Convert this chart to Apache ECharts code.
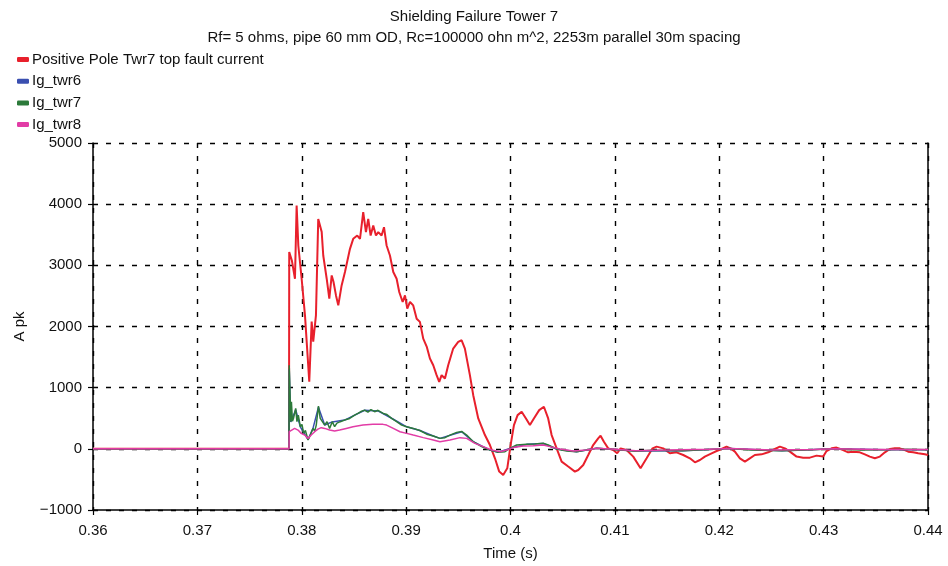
<!DOCTYPE html>
<html><head><meta charset="utf-8">
<script src="https://cdn.jsdelivr.net/npm/echarts@6/dist/echarts.min.js"></script>
<style>html,body{margin:0;padding:0;background:#fff}#c{width:948px;height:566px}</style>
</head><body><div id="c"></div>
<script>
const titleText = 'Shielding Failure Tower 7';
const subtitleText = 'Rf= 5 ohms, pipe 60 mm OD, Rc=100000 ohn m^2, 2253m parallel 30m spacing';
const seriesNames = ['Positive Pole Twr7 top fault current', 'Ig_twr6', 'Ig_twr7', 'Ig_twr8'];
const xTickLabels = ['0.36','0.37','0.38','0.39','0.4','0.41','0.42','0.43','0.44'];
const yTickLabels = ['\u22121000','0','1000','2000','3000','4000','5000'];

// [time (s), current (A)]
const redFault = [[0.36,0],[0.37878,0],[0.3788,3216],[0.37906,3074],[0.37935,2781],[0.37951,3976],[0.37967,3324],[0.37999,2781],[0.38031,2182],[0.38072,1096],[0.38095,2080],[0.3811,1753],[0.38136,2182],[0.38158,3759],[0.38191,3547],[0.38206,3161],[0.38239,2781],[0.38264,2455],[0.38287,2835],[0.38304,2732],[0.38328,2508],[0.3835,2345],[0.38382,2672],[0.38414,2890],[0.38462,3270],[0.38493,3433],[0.38532,3487],[0.38558,3433],[0.38589,3869],[0.38615,3543],[0.38637,3759],[0.3866,3487],[0.38685,3650],[0.38711,3487],[0.38733,3543],[0.38765,3487],[0.38788,3624],[0.38813,3324],[0.38845,3161],[0.38877,2890],[0.38909,2781],[0.38934,2564],[0.38967,2401],[0.38989,2508],[0.39011,2292],[0.39037,2401],[0.39068,2345],[0.39101,2128],[0.39132,2075],[0.39164,1802],[0.39197,1672],[0.39228,1476],[0.3926,1367],[0.39292,1204],[0.39317,1096],[0.3934,1204],[0.39372,1150],[0.39403,1367],[0.39451,1639],[0.39499,1748],[0.39532,1775],[0.39563,1639],[0.39611,1204],[0.39643,877],[0.39691,497],[0.39755,225],[0.39803,62],[0.39851,-155],[0.39892,-372],[0.3993,-427],[0.39969,-318],[0.40001,62],[0.40033,388],[0.40068,551],[0.40107,607],[0.40148,497],[0.40186,388],[0.40224,497],[0.40275,633],[0.4032,688],[0.40361,497],[0.40394,225],[0.40442,8],[0.4049,-209],[0.40553,-290],[0.40617,-372],[0.40649,-346],[0.40697,-264],[0.40745,-101],[0.40792,62],[0.4084,171],[0.40863,215],[0.40895,117],[0.40936,8],[0.40984,-20],[0.41022,-73],[0.41055,8],[0.41112,-20],[0.41176,-127],[0.41246,-318],[0.41304,-155],[0.41361,8],[0.414,36],[0.41463,8],[0.41527,-73],[0.41591,-57],[0.41655,-101],[0.41719,-155],[0.41767,-220],[0.41815,-183],[0.41862,-127],[0.41927,-73],[0.41975,-36],[0.42022,-3],[0.4207,36],[0.42109,8],[0.4215,-46],[0.42198,-155],[0.42246,-209],[0.42293,-155],[0.42341,-101],[0.42406,-90],[0.42469,-57],[0.42533,-3],[0.42581,36],[0.42629,8],[0.42677,-46],[0.42741,-127],[0.42804,-144],[0.42868,-144],[0.42932,-111],[0.42996,-127],[0.43028,-36],[0.43076,8],[0.43124,20],[0.43187,-20],[0.43235,-57],[0.43283,-46],[0.43347,-57],[0.43395,-90],[0.43443,-127],[0.43491,-155],[0.43539,-127],[0.43587,-57],[0.43635,-3],[0.43682,8],[0.4373,8],[0.43778,-20],[0.4381,-46],[0.43858,-57],[0.43906,-73],[0.4397,-90],[0.44,-100]];

const igTwr6 = [[0.36,0],[0.37878,0],[0.3788,1300],[0.37895,440],[0.37942,640],[0.37986,360],[0.3806,150],[0.38107,330],[0.3816,680],[0.3822,390],[0.38292,440],[0.38411,470],[0.38507,550],[0.38603,630],[0.3873,620],[0.38861,500],[0.39005,360],[0.39132,300],[0.3926,210],[0.39324,171],[0.39532,280],[0.39643,117],[0.39803,-20],[0.39882,-57],[0.39994,8],[0.40155,73],[0.40313,88],[0.40442,-3],[0.40633,-46],[0.40825,8],[0.412,-35],[0.4165,-30],[0.421,5],[0.426,-30],[0.431,0],[0.436,-15],[0.44,-15]];

const igTwr7 = [[0.36,0],[0.37878,0],[0.3788,1367],[0.37895,444],[0.37901,770],[0.37911,450],[0.37921,500],[0.37942,661],[0.37954,444],[0.37967,551],[0.37986,362],[0.38002,400],[0.38018,253],[0.38035,300],[0.3806,144],[0.38082,225],[0.38107,334],[0.38124,290],[0.38139,388],[0.3816,700],[0.38177,497],[0.38194,520],[0.3822,388],[0.38242,444],[0.38267,334],[0.38292,444],[0.38315,362],[0.38337,420],[0.38369,444],[0.38411,470],[0.38459,497],[0.38507,551],[0.38538,580],[0.38567,610],[0.38603,633],[0.38634,600],[0.38663,640],[0.38698,607],[0.3873,630],[0.38781,579],[0.38816,560],[0.38861,497],[0.38909,444],[0.38957,388],[0.39005,362],[0.39068,334],[0.39132,300],[0.39197,240],[0.3926,210],[0.39324,171],[0.39372,183],[0.3942,225],[0.39484,269],[0.39532,285],[0.3958,225],[0.39643,117],[0.39723,36],[0.39803,-20],[0.39882,-57],[0.39947,-46],[0.39994,8],[0.40059,62],[0.40155,73],[0.40234,80],[0.40313,90],[0.40361,62],[0.40442,-3],[0.40538,-36],[0.40633,-46],[0.40729,-20],[0.40825,8],[0.41,-10],[0.412,-40],[0.4135,-25],[0.4165,-30],[0.419,-10],[0.421,5],[0.423,-20],[0.426,-30],[0.429,-15],[0.431,0],[0.4335,-20],[0.436,-15],[0.438,-5],[0.44,-15]];

const igTwr8 = [[0.36,0],[0.37878,0],[0.3788,280],[0.37932,334],[0.37964,307],[0.37995,253],[0.38028,225],[0.3806,171],[0.38091,225],[0.38124,280],[0.38155,323],[0.38187,346],[0.3822,334],[0.38267,307],[0.38315,290],[0.38363,307],[0.38426,334],[0.38491,362],[0.38586,388],[0.38682,400],[0.38778,400],[0.38813,388],[0.38877,334],[0.38941,280],[0.39005,253],[0.39068,225],[0.39164,183],[0.3926,144],[0.39324,117],[0.3942,144],[0.39516,183],[0.3958,171],[0.39659,90],[0.39739,36],[0.39819,-20],[0.39899,-46],[0.39963,-20],[0.40026,20],[0.40122,46],[0.40218,52],[0.40313,62],[0.40378,36],[0.40473,-3],[0.40601,-36],[0.40729,-20],[0.40825,8],[0.41,-5],[0.412,-30],[0.415,-20],[0.419,-5],[0.421,5],[0.425,-20],[0.429,-10],[0.431,0],[0.435,-10],[0.44,-10]];

const seriesData = [redFault, igTwr6, igTwr7, igTwr8];
const colors = ['#e8202c', '#3a4fb0', '#2c7a3a', '#e23ca6'];
const widths = [2, 1.5, 1.5, 1.5];

const font = '"Liberation Sans", Arial, sans-serif';
const chart = echarts.init(document.getElementById('c'), null, {renderer: 'canvas'});
const axisLineStyle = {color: '#000', width: 1.5};
const gridLine = {show: true, lineStyle: {type: [5, 8], color: '#000', width: 1.4}};

chart.setOption({
  animation: false,
  backgroundColor: '#fff',
  textStyle: {fontFamily: font},
  title: {
    text: titleText, subtext: subtitleText, left: 'center', top: 4, itemGap: 6,
    textStyle: {fontSize: 15, fontWeight: 'normal', color: '#111', fontFamily: font},
    subtextStyle: {fontSize: 15, color: '#111', fontFamily: font}
  },
  legend: {
    orient: 'vertical', left: 12, top: 47, itemWidth: 12, itemHeight: 5, itemGap: 6.7,
    icon: 'roundRect', data: seriesNames,
    textStyle: {fontSize: 15, color: '#111', fontFamily: font, padding: [0, 0, 0, -2]}
  },
  grid: {left: 93, right: 20, top: 143, bottom: 54},
  xAxis: {
    type: 'value', min: 0.36, max: 0.44, interval: 0.01,
    name: 'Time (s)', nameLocation: 'middle', nameGap: 36,
    nameTextStyle: {fontSize: 15, color: '#111', fontFamily: font},
    axisLine: {show: true, onZero: false, lineStyle: axisLineStyle},
    axisTick: {show: true, length: 5, lineStyle: {color: '#000', width: 1.2}},
    axisLabel: {fontSize: 15, color: '#111', margin: 13,
      formatter: (v) => xTickLabels[Math.round((v - 0.36) / 0.01)]},
    splitLine: gridLine
  },
  yAxis: [{
    type: 'value', min: -1000, max: 5000, interval: 1000,
    name: 'A pk', nameLocation: 'middle', nameGap: 66, nameRotate: 90,
    nameTextStyle: {fontSize: 15, color: '#111', fontFamily: font},
    axisLine: {show: true, lineStyle: axisLineStyle},
    axisTick: {show: true, length: 5, lineStyle: {color: '#000', width: 1.2}},
    axisLabel: {fontSize: 15, color: '#111', margin: 11,
      formatter: (v) => yTickLabels[Math.round((v + 1000) / 1000)]},
    splitLine: gridLine
  }, {
    type: 'value', position: 'right', min: -1000, max: 5000, interval: 1000,
    axisLine: {show: true, lineStyle: axisLineStyle},
    axisTick: {show: false}, axisLabel: {show: false}, splitLine: {show: false}
  }],
  series: seriesNames.map((n, i) => ({
    name: n, type: 'line', data: seriesData[i], showSymbol: false, symbol: 'none',
    color: colors[i], lineStyle: {width: widths[i], color: colors[i]}
  }))
});
</script>
</body></html>
